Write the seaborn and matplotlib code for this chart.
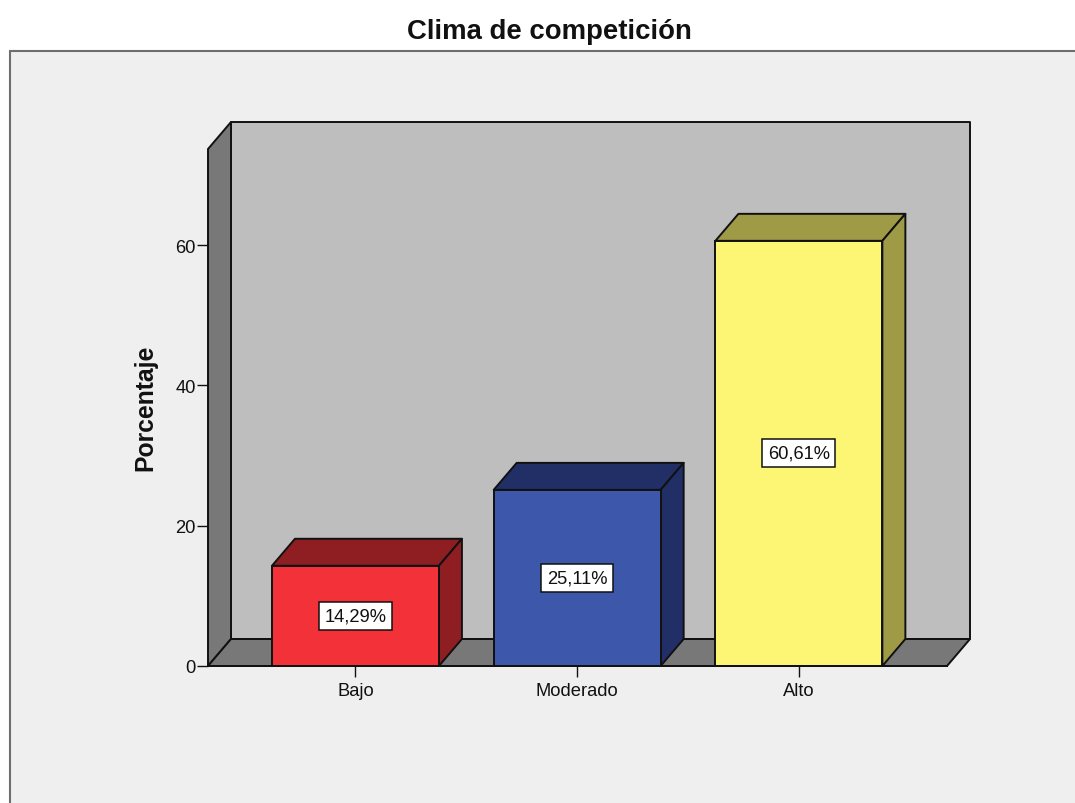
import matplotlib
matplotlib.use("Agg")
import matplotlib.pyplot as plt
from matplotlib.patches import Polygon, Rectangle
import seaborn as sns

categories = ["Bajo", "Moderado", "Alto"]
percentages = [14.29, 25.11, 60.61]
value_labels = ["14,29%", "25,11%", "60,61%"]
yticks = [0, 20, 40, 60]

front_colors = ["#F23238", "#3D57AB", "#FCF674"]
shade_colors = ["#8F1E22", "#212F66", "#9E9A46"]
PANEL = "#EFEFEF"
WALL = "#BEBEBE"
FLOOR = "#787878"
EDGE = "#111111"
LW = 1.4

W, H = 1075, 804
sns.set_theme(style="white")
plt.rcParams["font.family"] = ["Liberation Sans", "DejaVu Sans"]

fig = plt.figure(figsize=(W / 100, H / 100), dpi=100, facecolor="white")

# chart panel with its frame, running off the right and bottom edges
fig.patches.append(Rectangle((10 / W, -0.02), 1.05, (804 - 52) / H + 0.02,
                             transform=fig.transFigure, facecolor=PANEL,
                             edgecolor="#6E6E6E", linewidth=1.5, zorder=-1))

ax = fig.add_axes([208 / W, (H - 667) / H, 739 / W, 517 / H])
ax.patch.set_visible(False)

sns.barplot(x=categories, y=percentages, hue=categories, palette=front_colors,
            saturation=1, width=0.753, edgecolor=EDGE, linewidth=LW,
            legend=False, ax=ax, zorder=4)

xmin, xmax = -0.665, 2.668
ymin, ymax = 0, 73.7
ax.set_xlim(xmin, xmax)
ax.set_ylim(ymin, ymax)

# depth of the pseudo-3D extrusion, in data units
dx = 23 / 221.7
dy = 27 / 7.017


def face(points, color, z):
    ax.add_patch(Polygon(points, closed=True, facecolor=color, edgecolor=EDGE,
                         linewidth=LW, joinstyle="round", clip_on=False, zorder=z))


bars = list(ax.patches[:len(categories)])

# back wall, left wall and floor
face([(xmin + dx, dy), (xmax + dx, dy), (xmax + dx, ymax + dy), (xmin + dx, ymax + dy)], WALL, 1)
face([(xmin, 0), (xmin + dx, dy), (xmin + dx, ymax + dy), (xmin, ymax)], FLOOR, 1.1)
face([(xmin, 0), (xmax, 0), (xmax + dx, dy), (xmin + dx, dy)], FLOOR, 1.2)

# top and side faces of every bar, plus the value tag at mid-height
for bar, shade, label in zip(bars, shade_colors, value_labels):
    x0, x1 = bar.get_x(), bar.get_x() + bar.get_width()
    h = bar.get_height()
    face([(x0, h), (x1, h), (x1 + dx, h + dy), (x0 + dx, h + dy)], shade, 3)
    face([(x1, 0), (x1 + dx, dy), (x1 + dx, h + dy), (x1, h)], shade, 3)
    ax.text((x0 + x1) / 2, h / 2, label, ha="center", va="center", fontsize=13.2,
            color="#111111", zorder=6,
            bbox=dict(boxstyle="square,pad=0.3", facecolor="white",
                      edgecolor=EDGE, linewidth=1.1))

for side in ("top", "right", "left"):
    ax.spines[side].set_visible(False)
ax.spines["bottom"].set_color(EDGE)
ax.spines["bottom"].set_linewidth(LW)
ax.spines["bottom"].set_zorder(5)

ax.set_yticks(yticks)
ax.tick_params(axis="both", which="major", direction="out", length=8, width=1.0,
               color=EDGE, labelsize=13.2, labelcolor="#111111",
               left=True, bottom=True)
ax.tick_params(axis="x", pad=3.5)
ax.tick_params(axis="y", pad=1.0)

ax.set_ylabel("")
fig.text(145 / W, 1 - 408 / H, "Porcentaje", rotation=90, ha="center", va="center",
         fontsize=17.8, fontweight="bold", color="#111111")
fig.text(549 / W, 1 - 32 / H, "Clima de competición", ha="center", va="center",
         fontsize=19.8, fontweight="bold", color="#111111")

fig.savefig("out.png", dpi=100, facecolor="white")
